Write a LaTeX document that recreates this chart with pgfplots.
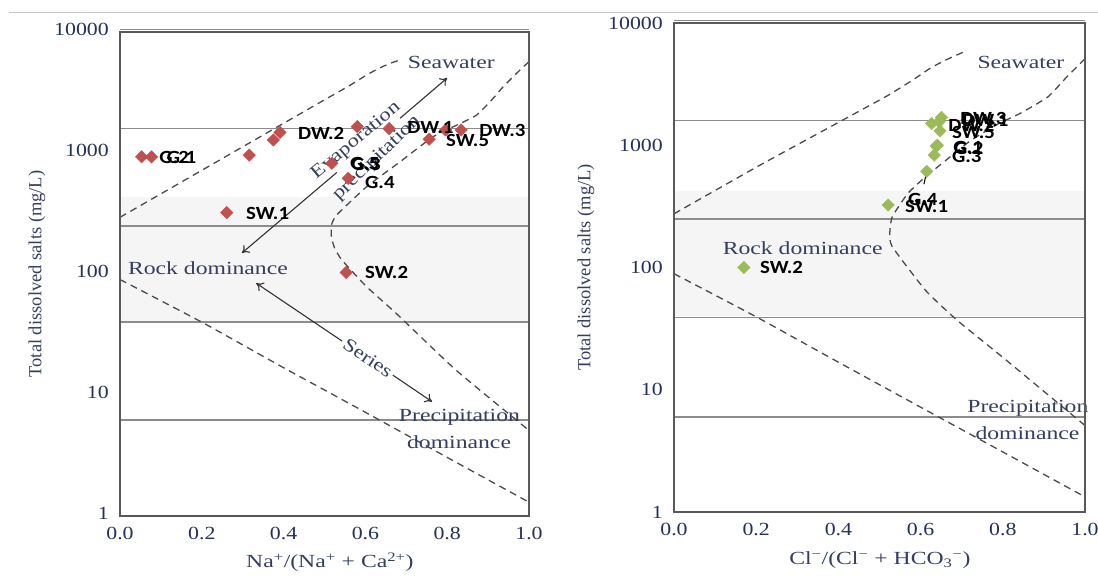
\documentclass[border=0pt]{standalone}
\usepackage{fontspec}
\setmainfont{Liberation Serif}
\newfontfamily\labfont{Carlito}
\usepackage{graphicx}
\usepackage{pgfplots}
\pgfplotsset{compat=1.18}
\usetikzlibrary{arrows.meta}

\definecolor{ptred}{HTML}{C0504D}
\definecolor{ptgreen}{HTML}{9BBB59}
\definecolor{inkblue}{HTML}{25305C}
\definecolor{annot}{HTML}{343E5E}
\definecolor{bandgray}{HTML}{F5F5F5}
\definecolor{linegray}{HTML}{8C8C8C}
\definecolor{dashc}{HTML}{4A4A4A}

\newcommand{\sz}{\fontsize{18.5bp}{21bp}\selectfont}
\newcommand{\sx}[1]{\scalebox{1.28}[1]{#1}}
\newcommand{\rx}[1]{\scalebox{1.22}[1]{#1}}
\newcommand{\dg}[1]{\scalebox{1.18}[1]{#1}}
\newcommand{\lb}[1]{\scalebox{1.12}[1]{\labfont\bfseries\fontsize{18.6bp}{20bp}\selectfont #1}}

\tikzset{
  txt/.style={font=\sz,text=annot,inner sep=0pt},
  dlab/.style={anchor=west,inner sep=0pt,text=black},
  arr/.style={black!80,line width=1.1bp,-{To[length=7bp,width=10bp]}},
}
\pgfplotsset{
  gibbs/.style={
    scale only axis, xmin=0, xmax=1, ymin=1, ymax=10000,
    axis on top, clip mode=individual,
    xtick={0,0.2,0.4,0.6,0.8,1},
    xticklabels={\dg{0.0},\dg{0.2},\dg{0.4},\dg{0.6},\dg{0.8},\dg{1.0}},
    ytick={1,10,100,1000,10000},
    yticklabels={\dg{1},\dg{10},\dg{100},\dg{1000},\dg{10000}},
    yminorticks=false,
    major tick length=0pt,
    axis line style={black!65,line width=1.6bp},
    tick label style={font=\sz,text=inkblue},
    xticklabel style={anchor=north,inner sep=0pt,yshift=-11bp},
    yticklabel style={anchor=east,inner sep=0pt,xshift=-11bp},
  },
  gband/.style={fill=bandgray,draw=none,forget plot},
  ghline/.style={linegray,line width=1.4bp,forget plot},
  gbound/.style={dashc,line width=1.3bp,dash pattern=on 7bp off 5bp,smooth,tension=0.3,forget plot},
  gmark/.style={only marks,mark=square*,mark size=4.4bp,mark options={rotate=45}},
}

\begin{document}
\begin{tikzpicture}
\path[use as bounding box] (0,0) rectangle (1098bp,576bp);
\draw[black!22,line width=1bp] (9bp,563bp) -- (1098bp,563bp);

% ---------------- left: Na/(Na+Ca)
\begin{semilogyaxis}[gibbs, at={(120bp,60bp)}, anchor=south west,
  width=409bp, height=484bp, yticklabel style={yshift=3bp}]
  \addplot[gband] coordinates {(0,40) (1,40) (1,430) (0,430)} -- cycle;
  \addplot[ghline] coordinates {(0,1600) (1,1600)};
  \addplot[ghline] coordinates {(0,250) (1,250)};
  \addplot[ghline] coordinates {(0,40) (1,40)};
  \addplot[ghline] coordinates {(0,6.2) (1,6.2)};
  \draw[linegray,line width=1bp] (axis cs:0,10500) -- (axis cs:1,10500);

  % boundaries of the Gibbs field
  \addplot[gbound] coordinates {(0,294) (0.2,719) (0.4,1760) (0.5,2750)
    (0.562,3620) (0.6,4350) (0.63,4950) (0.66,5500) (0.69,5950)};
  \addplot[gbound] coordinates {(1.0,5690) (0.97,4570) (0.937,3530)
    (0.905,2655) (0.872,2060) (0.839,1800) (0.766,1365) (0.685,847)
    (0.603,526) (0.53,308) (0.517,254) (0.517,203) (0.524,166) (0.542,131)
    (0.603,78.5) (0.676,47) (0.822,16) (1.0,5.1)};
  \addplot[gbound] coordinates {(0,90) (0.2,40) (0.4,16.8) (0.6,7.2)
    (0.8,3.05) (1,1.3)};

  \node[txt] at (axis cs:0.81,5650) {\sx{Seawater}};
  \node[txt] at (axis cs:0.215,112) {\sx{Rock dominance}};
  \node[txt,rotate=-34] at (axis cs:0.606,20.2) {\rx{Series}};
  \node[txt] at (axis cs:0.83,6.58) {\sx{Precipitation}};
  \node[txt] at (axis cs:0.829,4.09) {\sx{dominance}};
  \node[txt,rotate=40] at (axis cs:0.577,1256) {\rx{Evaporation}};
  \node[txt,rotate=44] at (axis cs:0.628,904) {\rx{precipitation}};

  \draw[arr] (axis cs:0.53,690) -- (axis cs:0.298,149);
  \draw[arr] (axis cs:0.685,1940) -- (axis cs:0.80,4170);
  \draw[arr] (axis cs:0.543,27.9) -- (axis cs:0.333,84);
  \draw[arr] (axis cs:0.667,14.6) -- (axis cs:0.763,8.8);

  \addplot[gmark,color=ptred] coordinates {(0.053,930) (0.077,930)
    (0.316,960) (0.375,1280) (0.391,1480) (0.518,822) (0.558,617)
    (0.261,321) (0.553,103) (0.580,1650) (0.658,1590) (0.756,1300)
    (0.796,1550) (0.834,1550)};

  \node[dlab] at (axis cs:0.096,927) {\lb{G.2}};
  \node[dlab] at (axis cs:0.114,927) {\lb{G.1}};
  \node[dlab] at (axis cs:0.435,1463) {\lb{DW.2}};
  \node[dlab] at (axis cs:0.562,820) {\lb{G.5}};
  \node[dlab] at (axis cs:0.565,805) {\lb{G.3}};
  \node[dlab] at (axis cs:0.599,576) {\lb{G.4}};
  \node[dlab] at (axis cs:0.308,319) {\lb{SW.1}};
  \node[dlab] at (axis cs:0.599,102) {\lb{SW.2}};
  \node[dlab] at (axis cs:0.702,1610) {\lb{DW.1}};
  \node[dlab] at (axis cs:0.797,1280) {\lb{SW.5}};
  \node[dlab] at (axis cs:0.878,1549) {\lb{DW.3}};

  \node[txt,rotate=90] at (rel axis cs:-0.203,0.5) {Total dissolved salts (mg/L)};
  \node[txt] at (rel axis cs:0.513,-0.095)
    {\sx{Na\textsuperscript{+}/(Na\textsuperscript{+} + Ca\textsuperscript{2+})}};
\end{semilogyaxis}

% ---------------- right: Cl/(Cl+HCO3)
\begin{semilogyaxis}[gibbs, at={(674bp,64bp)}, anchor=south west,
  width=411bp, height=489bp]
  \addplot[gband] coordinates {(0,40) (1,40) (1,425) (0,425)} -- cycle;
  \addplot[ghline] coordinates {(0,1600) (1,1600)};
  \addplot[ghline] coordinates {(0,250) (1,250)};
  \addplot[ghline] coordinates {(0,39) (1,39)};
  \addplot[ghline] coordinates {(0,6.0) (1,6.0)};
  \draw[linegray,line width=1bp] (axis cs:0,10500) -- (axis cs:1,10500);

  \addplot[gbound] coordinates {(0,275) (0.21,690) (0.424,1700)
    (0.52,2550) (0.58,3400) (0.625,4300) (0.665,5050) (0.705,5800)};
  \addplot[gbound] coordinates {(1.0,5100) (0.955,3600) (0.91,2490)
    (0.842,1820) (0.791,1510) (0.723,1100) (0.672,804) (0.612,552)
    (0.569,404) (0.531,260) (0.525,190) (0.531,148) (0.612,65) (0.689,37)
    (0.808,17.5) (1.0,5.1)};
  \addplot[gbound] coordinates {(0,89) (0.2,39.5) (0.4,16.8) (0.6,7.2)
    (0.8,3.1) (1,1.33)};

  \node[txt] at (axis cs:0.844,4800) {\sx{Seawater}};
  \node[txt] at (axis cs:0.313,144) {\sx{Rock dominance}};
  \node[txt] at (axis cs:0.861,7.1) {\sx{Precipitation}};
  \node[txt] at (axis cs:0.86,4.43) {\sx{dominance}};

  \draw[black,line width=1bp] (axis cs:0.615,610) -- (axis cs:0.608,480);

  \addplot[gmark,color=ptgreen] coordinates {(0.170,100) (0.521,324)
    (0.615,612) (0.633,830) (0.638,985) (0.641,1000) (0.627,1507)
    (0.645,1560) (0.651,1690) (0.647,1312)};

  \node[dlab] at (axis cs:0.667,1465) {\lb{DW.2}};
  \node[dlab] at (axis cs:0.696,1671) {\lb{DW.3}};
  \node[dlab] at (axis cs:0.701,1600) {\lb{DW.1}};
  \node[dlab] at (axis cs:0.676,1283) {\lb{SW.5}};
  \node[dlab] at (axis cs:0.679,968) {\lb{G.1}};
  \node[dlab] at (axis cs:0.681,940) {\lb{G.2}};
  \node[dlab] at (axis cs:0.676,817) {\lb{G.3}};
  \node[dlab] at (axis cs:0.569,357) {\lb{G.4}};
  \node[dlab] at (axis cs:0.562,313) {\lb{SW.1}};
  \node[dlab] at (axis cs:0.209,101) {\lb{SW.2}};

  \node[txt,rotate=90] at (rel axis cs:-0.214,0.5) {Total dissolved salts (mg/L)};
  \node[txt] at (rel axis cs:0.501,-0.098)
    {\sx{Cl\textsuperscript{−}/(Cl\textsuperscript{−} + HCO\textsubscript{3}\textsuperscript{−})}};
\end{semilogyaxis}
\end{tikzpicture}
\end{document}
